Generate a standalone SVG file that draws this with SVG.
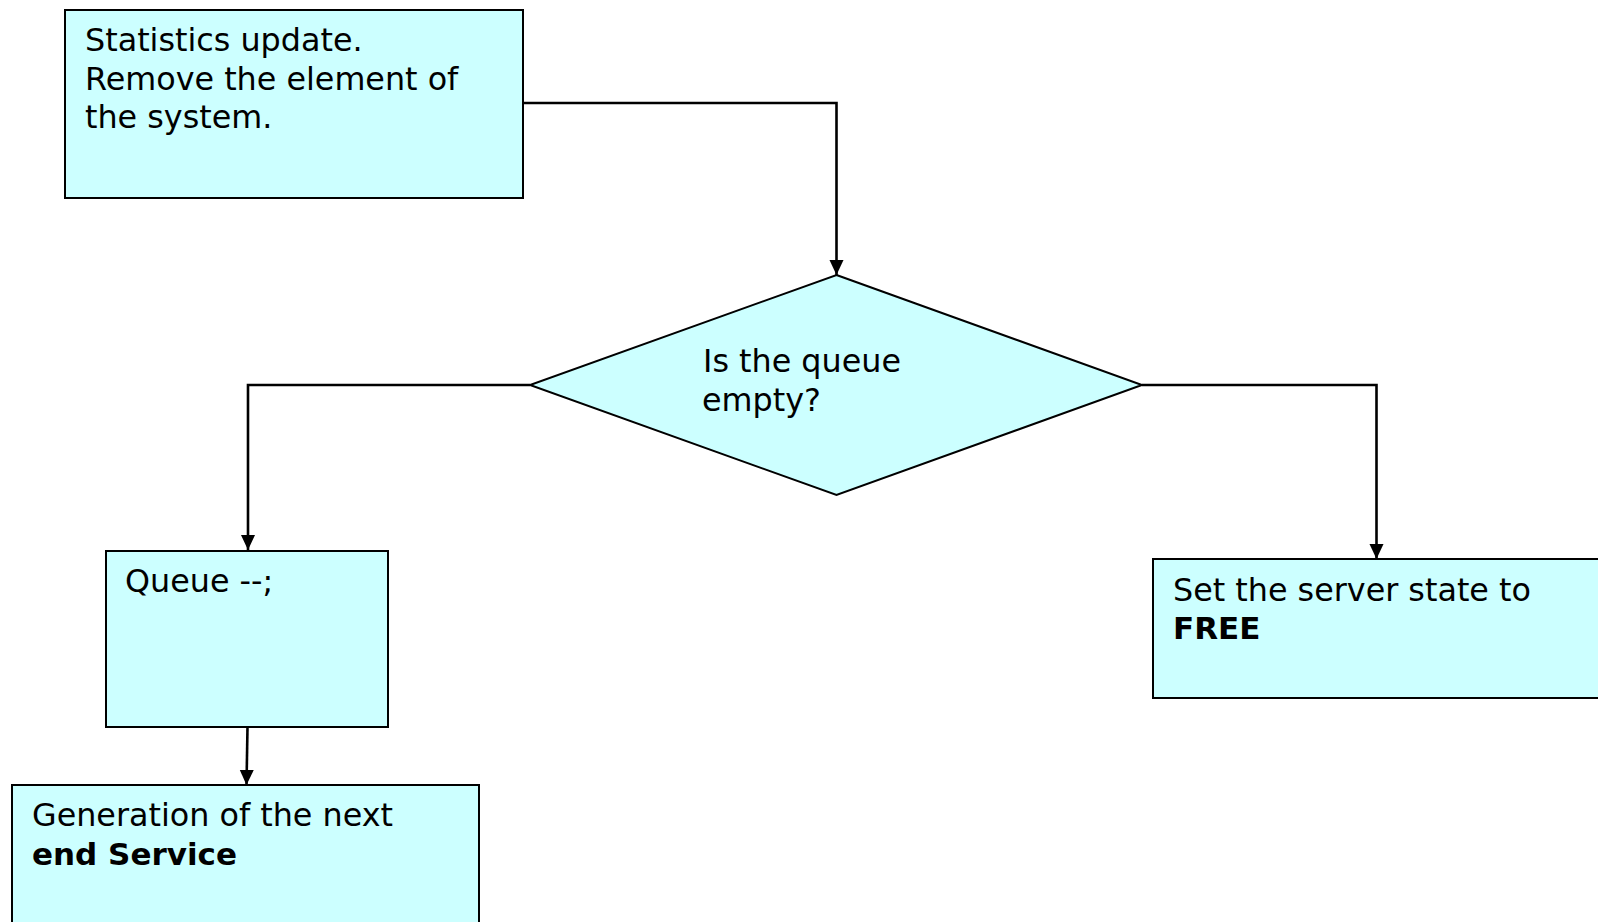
<svg xmlns="http://www.w3.org/2000/svg" width="1598" height="922" viewBox="0 0 1598 922">
  <style>
    .shape { fill: #ccffff; stroke: #000000; stroke-width: 2; }
    .label { font-family: "DejaVu Sans", Verdana, sans-serif; font-size: 31.8px; fill: #000000; }
    .bold { font-weight: bold; font-size: 31px; }
    .edge { fill: none; stroke: #000000; stroke-width: 2.6; }
  </style>
  <defs>
    <marker id="arrow" markerUnits="userSpaceOnUse" markerWidth="16" markerHeight="16" viewBox="0 0 16 16" refX="15" refY="8" orient="auto">
      <path d="M0,1 L15,8 L0,15 Z" fill="#000000"/>
    </marker>
  </defs>
  <rect width="1598" height="922" fill="#ffffff"/>

  <!-- flow connectors -->
  <g id="connectors">
    <path class="edge" d="M523,103 H836.5 V275" marker-end="url(#arrow)"/>
    <path class="edge" d="M530,385 H248 V550" marker-end="url(#arrow)"/>
    <path class="edge" d="M1142,385 H1376.5 V559" marker-end="url(#arrow)"/>
    <path class="edge" d="M247.5,727 L246.5,785" marker-end="url(#arrow)"/>
  </g>

  <g id="stats-update">
    <rect class="shape" x="65" y="10" width="458" height="188"/>
    <text class="label" x="85" y="51">Statistics update.</text>
    <text class="label" x="85" y="89.5">Remove the element of</text>
    <text class="label" x="85" y="128">the system.</text>
  </g>

  <g id="queue-empty">
    <polygon class="shape" points="836.5,275 1142,385 836.5,495 530,385"/>
    <text class="label" x="703" y="372">Is the queue</text>
    <text class="label" x="702" y="410.5">empty?</text>
  </g>

  <g id="queue-decrement">
    <rect class="shape" x="106" y="551" width="282" height="176"/>
    <text class="label" x="125" y="592">Queue --;</text>
  </g>

  <g id="next-end-service">
    <rect class="shape" x="12" y="785" width="467" height="150"/>
    <text class="label" x="32" y="826">Generation of the next</text>
    <text class="label bold" x="32" y="864.5">end Service</text>
  </g>

  <g id="server-free">
    <rect class="shape" x="1153" y="559" width="460" height="139"/>
    <text class="label" x="1173" y="601">Set the server state to</text>
    <text class="label bold" x="1173" y="639">FREE</text>
  </g>
</svg>
